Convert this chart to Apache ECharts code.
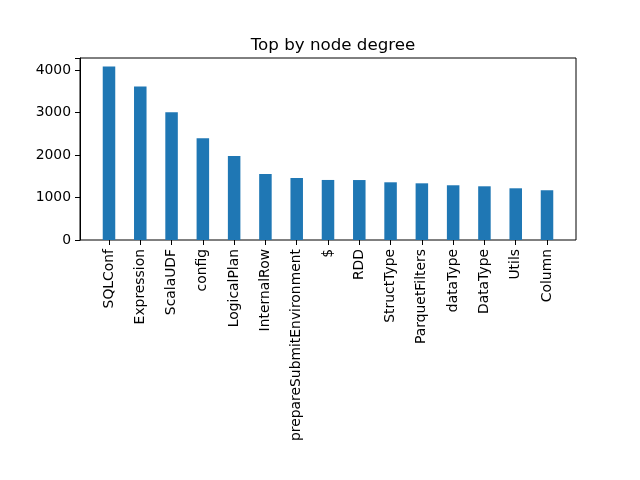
<!DOCTYPE html>
<html><head><meta charset="utf-8">
<script src="https://cdn.jsdelivr.net/npm/echarts@6/dist/echarts.min.js"></script>
<style>html,body{margin:0;padding:0;background:#fff}#c{width:640px;height:480px}</style>
</head><body><div id="c"></div>
<script>
const categories = ["SQLConf","Expression","ScalaUDF","config","LogicalPlan","InternalRow","prepareSubmitEnvironment","$","RDD","StructType","ParquetFilters","dataType","DataType","Utils","Column"];
const degrees = [4078,3610,3002,2394,1973,1552,1458,1412,1410,1357,1333,1287,1263,1216,1170];
const yTicks = [0,1000,2000,3000,4000];
const yMax = 4280;

const font = 'DejaVu Sans';
const chart = echarts.init(document.getElementById('c'), null, {renderer:'canvas'});
chart.setOption({
  animation:false,
  backgroundColor:'#fff',
  title:{text:'Top by node degree', left:328, top:32, textAlign:'center',
    textStyle:{fontFamily:font, fontSize:16.7, fontWeight:'normal', color:'#000'}},
  grid:[
    {left:80, top:58, width:496, height:182, show:true, borderColor:'#000', borderWidth:1, backgroundColor:'transparent'},
    {left:93.35, top:58, width:469.3, height:182}
  ],
  xAxis:[
    {gridIndex:0, type:'value', show:false, min:0, max:1},
    {gridIndex:1, type:'category', data:categories,
      axisLine:{show:false},
      axisTick:{show:true, alignWithLabel:true, length:5, lineStyle:{color:'#000'}},
      axisLabel:{rotate:90, margin:9, interval:0, fontFamily:font, fontSize:13.9, color:'#000'}}
  ],
  yAxis:[
    {gridIndex:0, type:'value', min:0, max:yMax, interval:1000,
      splitLine:{show:false},
      axisLine:{show:true, lineStyle:{color:'#000'}},
      axisTick:{show:true, length:5, lineStyle:{color:'#000'}},
      axisLabel:{margin:9, fontFamily:font, fontSize:13.9, color:'#000',
        formatter:v=>yTicks.includes(v)?String(v):''}},
    {gridIndex:1, type:'value', min:0, max:yMax, show:false, splitLine:{show:false}}
  ],
  series:[{type:'bar', xAxisIndex:1, yAxisIndex:1, data:degrees, barWidth:'40%',
    itemStyle:{color:'#1f77b4'}}]
});
</script></body></html>
